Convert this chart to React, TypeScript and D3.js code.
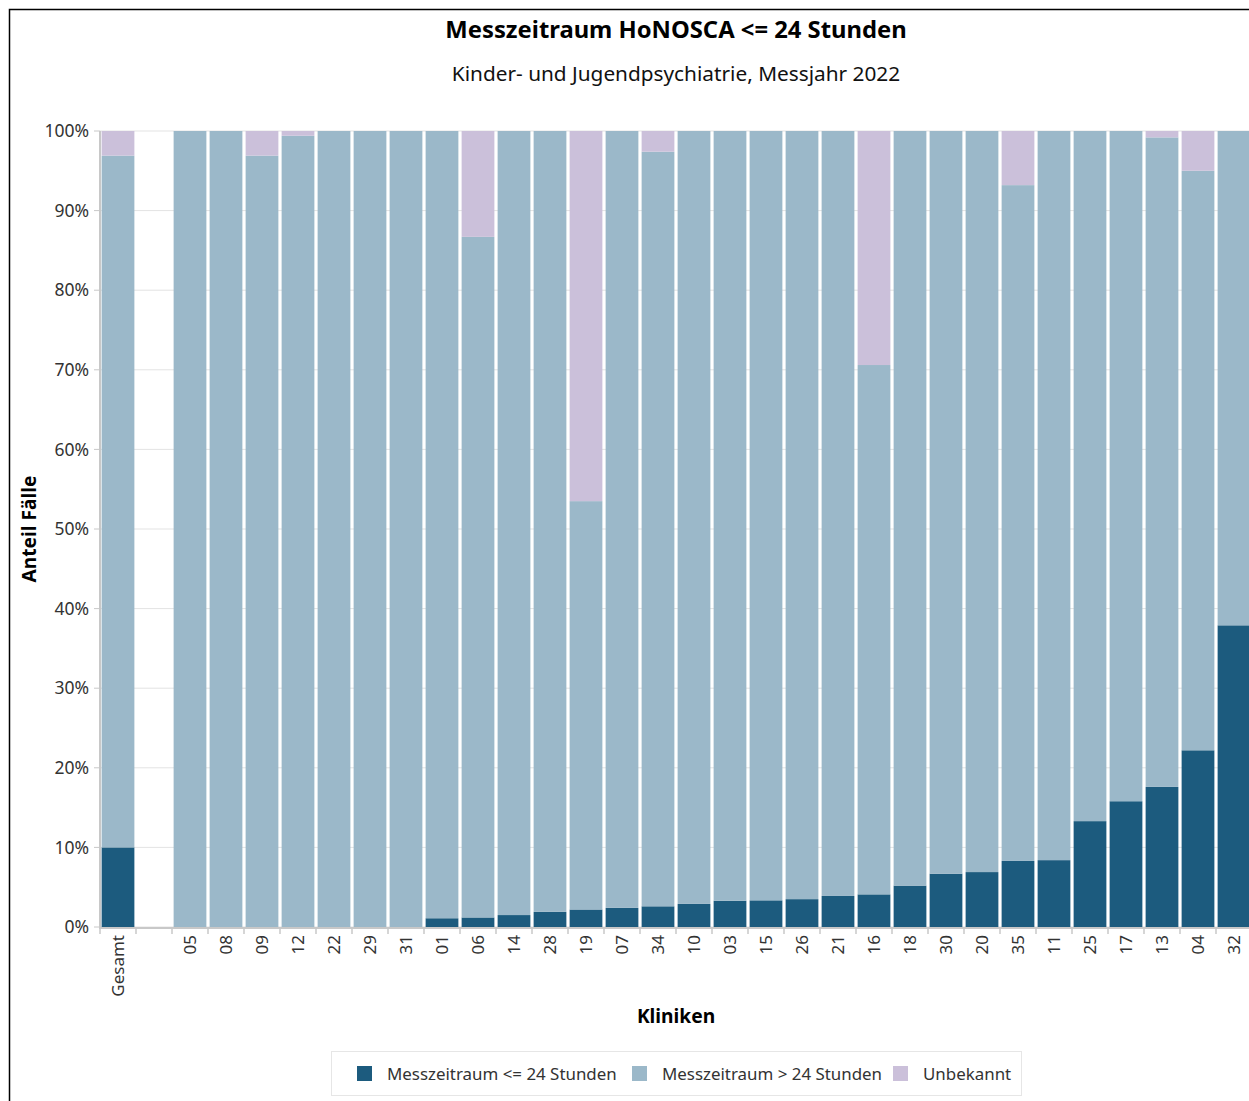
import React from "react";
import * as d3 from "d3";

const categories = ["Gesamt", "", "05", "08", "09", "12", "22", "29", "31", "01", "06", "14", "28", "19", "07", "34", "10", "03", "15", "26", "21", "16", "18", "30", "20", "35", "11", "25", "17", "13", "04", "32"];
const shortValues = [10.0, 0, 0, 0, 0, 0, 0, 0, 0, 1.1, 1.2, 1.5, 1.9, 2.2, 2.4, 2.6, 2.9, 3.3, 3.35, 3.5, 3.9, 4.1, 5.2, 6.7, 6.9, 8.3, 8.4, 13.3, 15.8, 17.6, 22.2, 37.9];
const longValues = [86.9, 0, 100, 100, 96.9, 99.4, 100, 100, 100, 98.9, 85.5, 98.5, 98.1, 51.3, 97.6, 94.8, 97.1, 96.7, 96.65, 96.5, 96.1, 66.5, 94.8, 93.3, 93.1, 84.9, 91.6, 86.7, 84.2, 81.6, 72.8, 62.1];
const unknownValues = [3.1, 0, 0, 0, 3.1, 0.6, 0, 0, 0, 0, 13.3, 0, 0, 46.5, 0, 2.6, 0, 0, 0, 0, 0, 29.4, 0, 0, 0, 6.8, 0, 0, 0, 0.8, 5.0, 0];
const seriesKeys = ["short", "long", "unknown"];
const seriesLabels = ["Messzeitraum <= 24 Stunden", "Messzeitraum > 24 Stunden", "Unbekannt"];
const seriesColors = ["#1c5b7e", "#9bb8c9", "#cbc0da"];
const yTicks = [0, 10, 20, 30, 40, 50, 60, 70, 80, 90, 100];

const FONT = "'Noto Sans', 'Open Sans', sans-serif";

export default function App() {
  const left = 100, right = 1252, top = 131, bottom = 927;
  const x = d3.scaleBand<string>().domain(categories).range([left, right]).paddingInner(0.09).paddingOuter(0.045);
  const y = d3.scaleLinear().domain([0, 100]).range([bottom, top]);
  const rows = categories.map((c, i) => ({ cat: c, short: shortValues[i], long: longValues[i], unknown: unknownValues[i] }));
  const stacked = d3.stack<any>().keys(seriesKeys)(rows);
  const step = x.step();
  const boundaries = d3.range(categories.length + 1).map((i) => left + i * step);
  const cx = (left + right) / 2;

  const legendX = [357, 632, 893];

  return (
    <div style={{ position: "fixed", left: 0, top: 0, width: 1249, height: 1101, overflow: "hidden", background: "#fff" }}>
      <svg width={1300} height={1160} style={{ display: "block", fontFamily: FONT }}>
        <rect x={9.5} y={9.5} width={1320} height={1200} fill="none" stroke="#000" strokeWidth={1.5} />
        <text x={cx} y={38} textAnchor="middle" fontSize={23.8} fontWeight="bold" fill="#000">Messzeitraum HoNOSCA &lt;= 24 Stunden</text>
        <text x={cx} y={81} textAnchor="middle" fontSize={20.8} fill="#111">Kinder- und Jugendpsychiatrie, Messjahr 2022</text>

        {yTicks.map((t) => (
          <g key={t}>
            <line x1={left} x2={right} y1={y(t)} y2={y(t)} stroke="#e3e3e3" strokeWidth={1} />
            <line x1={94} x2={left} y1={y(t)} y2={y(t)} stroke="#c8c8c8" strokeWidth={1} />
            <text x={89} y={y(t)} dy="0.35em" textAnchor="end" fontSize={17.5} fill="#333">{t + "%"}</text>
          </g>
        ))}

        {stacked.map((s, si) => (
          <g key={s.key} fill={seriesColors[si]}>
            {s.map((d, i) => {
              const h = y(d[0]) - y(d[1]);
              if (h <= 0) return null;
              return <rect key={i} x={x(categories[i])} y={y(d[1])} width={x.bandwidth()} height={h} />;
            })}
          </g>
        ))}

        <line x1={left} x2={left} y1={top} y2={bottom + 1} stroke="#c8c8c8" strokeWidth={2} />
        <line x1={left - 1} x2={right} y1={bottom + 1} y2={bottom + 1} stroke="#c8c8c8" strokeWidth={2} />
        {boundaries.map((b, i) => (
          <line key={i} x1={b} x2={b} y1={bottom} y2={bottom + 7} stroke="#c8c8c8" strokeWidth={1.5} />
        ))}
        {categories.map((c, i) => (
          <text key={i} transform={`translate(${(x(c) as number) + x.bandwidth() / 2},935) rotate(-90)`} dy="0.35em" textAnchor="end" fontSize={17} fill="#333">{c}</text>
        ))}

        <text x={cx} y={1023} textAnchor="middle" fontSize={19.2} fontWeight="bold" fill="#000">Kliniken</text>
        <text transform={`translate(36,${(top + bottom) / 2}) rotate(-90)`} textAnchor="middle" fontSize={19.2} fontWeight="bold" fill="#000">Anteil Fälle</text>

        <rect x={331.5} y={1051.5} width={690} height={44} fill="#fff" stroke="#e6e6e6" strokeWidth={1} />
        {seriesLabels.map((l, i) => (
          <g key={l}>
            <rect x={legendX[i]} y={1066} width={15} height={15} fill={seriesColors[i]} />
            <text x={legendX[i] + 30} y={1074} dy="0.35em" fontSize={16.9} fill="#333">{l}</text>
          </g>
        ))}
      </svg>
    </div>
  );
}
